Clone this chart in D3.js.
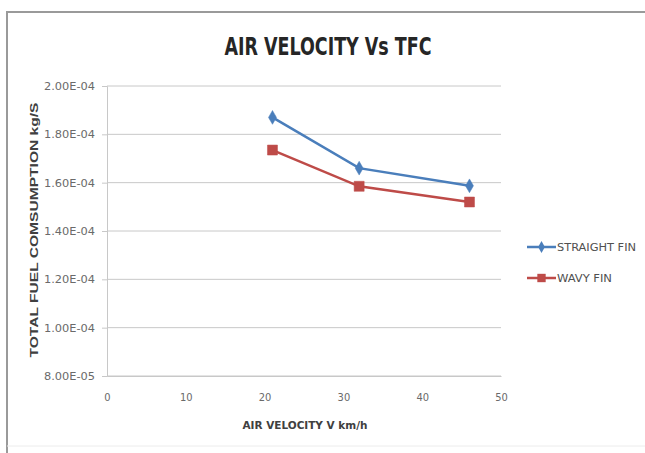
<!DOCTYPE html>
<html><head><meta charset="utf-8">
<script src="https://cdn.jsdelivr.net/npm/d3@7"></script>
<style>body{margin:0;background:#fff}svg{display:block}</style>
</head><body>
<svg id="c" width="645" height="453"></svg>
<script>
const velocity = [21, 32, 46];
const straightFin = [1.87e-4, 1.66e-4, 1.587e-4];
const wavyFin = [1.735e-4, 1.585e-4, 1.52e-4];
const yTicks = [8e-5, 1e-4, 1.2e-4, 1.4e-4, 1.6e-4, 1.8e-4, 2e-4];
const xTicks = [0, 10, 20, 30, 40, 50];
const seriesNames = ["STRAIGHT FIN", "WAVY FIN"];

const svg = d3.select("#c");
const font = "'Liberation Sans Narrow','DejaVu Sans Condensed','Liberation Sans',sans-serif";

// outer frame (top/left visible, bottom faint)
svg.append("line").attr("x1",7).attr("x2",645).attr("y1",12).attr("y2",12).attr("stroke","#9a9a9a").attr("stroke-width",2);
svg.append("line").attr("x1",7).attr("x2",7).attr("y1",11).attr("y2",453).attr("stroke","#9a9a9a").attr("stroke-width",2);
svg.append("line").attr("x1",7).attr("x2",645).attr("y1",446).attr("y2",446).attr("stroke","#ececec").attr("stroke-width",1);

const x = d3.scaleLinear().domain([0,50]).range([107,501]);
const y = d3.scaleLinear().domain([8e-5,2e-4]).range([376,86]);

// gridlines
svg.append("g").selectAll("line").data(yTicks).join("line")
  .attr("x1",x(0)).attr("x2",x(50)).attr("y1",d=>y(d)).attr("y2",d=>y(d))
  .attr("stroke","#c8c8c8").attr("stroke-width",1);

// y axis
const yAxis = d3.axisLeft(y).tickValues(yTicks).tickSize(5).tickPadding(7)
  .tickFormat(d=>d.toExponential(2).toUpperCase().replace(/E([+-])(\d)$/,"E$10$2"));
const gy = svg.append("g").attr("transform",`translate(${x(0)},0)`).call(yAxis);
gy.select(".domain").attr("stroke","#c8c8c8");
gy.selectAll(".tick line").attr("stroke","#c8c8c8");
gy.selectAll("text").attr("font-family",font).attr("font-size",10.5).attr("fill","#6a6a6a")
  .attr("textLength",51).attr("lengthAdjust","spacingAndGlyphs");

// x axis
const xAxis = d3.axisBottom(x).tickValues(xTicks).tickSize(0).tickPadding(17);
const gx = svg.append("g").attr("transform",`translate(0,${y(8e-5)})`).call(xAxis);
gx.select(".domain").attr("stroke","#c8c8c8");
gx.selectAll("text").attr("font-family",font).attr("font-size",11).attr("fill","#6a6a6a");

// title
svg.append("text").attr("x",328).attr("y",55).attr("text-anchor","middle")
  .attr("font-family",font).attr("font-weight","bold").attr("font-size",24)
  .attr("fill","#262626").attr("textLength",207).attr("lengthAdjust","spacingAndGlyphs")
  .text("AIR VELOCITY Vs TFC");

// axis titles
svg.append("text").attr("transform","translate(38,230) rotate(-90)").attr("text-anchor","middle")
  .attr("font-family","'Liberation Sans','DejaVu Sans',sans-serif").attr("font-weight","bold").attr("font-size",11)
  .attr("fill","#404040").attr("textLength",255).attr("lengthAdjust","spacingAndGlyphs")
  .text("TOTAL FUEL COMSUMPTION kg/S");
svg.append("text").attr("x",305).attr("y",429).attr("text-anchor","middle")
  .attr("font-family",font).attr("font-weight","bold").attr("font-size",11)
  .attr("fill","#404040").attr("textLength",125).attr("lengthAdjust","spacingAndGlyphs")
  .text("AIR VELOCITY V  km/h");

const colors = ["#4a7ebb","#be4b48"];
const data = [straightFin, wavyFin];
const line = d3.line().x((d,i)=>x(velocity[i])).y(d=>y(d));

data.forEach((vals,k)=>{
  svg.append("path").datum(vals).attr("d",line).attr("fill","none")
    .attr("stroke",colors[k]).attr("stroke-width",2.5);
  const sym = k===0 ? d3.symbol(d3.symbolDiamond,55) : d3.symbol(d3.symbolSquare,100);
  svg.append("g").selectAll("path").data(vals).join("path")
    .attr("transform",(d,i)=>`translate(${x(velocity[i])},${y(d)})`)
    .attr("d",sym).attr("fill",colors[k]).attr("stroke",colors[k]).attr("stroke-width",0.5);
});

// legend
const legY = [247, 278];
seriesNames.forEach((name,k)=>{
  const g = svg.append("g");
  g.append("line").attr("x1",527).attr("x2",556).attr("y1",legY[k]).attr("y2",legY[k])
    .attr("stroke",colors[k]).attr("stroke-width",2.5);
  const sym = k===0 ? d3.symbol(d3.symbolDiamond,40) : d3.symbol(d3.symbolSquare,70);
  g.append("path").attr("transform",`translate(541.5,${legY[k]})`).attr("d",sym).attr("fill",colors[k]);
  g.append("text").attr("x",557).attr("y",legY[k]+4).attr("font-family",font)
    .attr("font-size",11).attr("fill","#505050")
    .attr("textLength",k===0?79:55).attr("lengthAdjust","spacingAndGlyphs").text(name);
});
</script>
</body></html>
